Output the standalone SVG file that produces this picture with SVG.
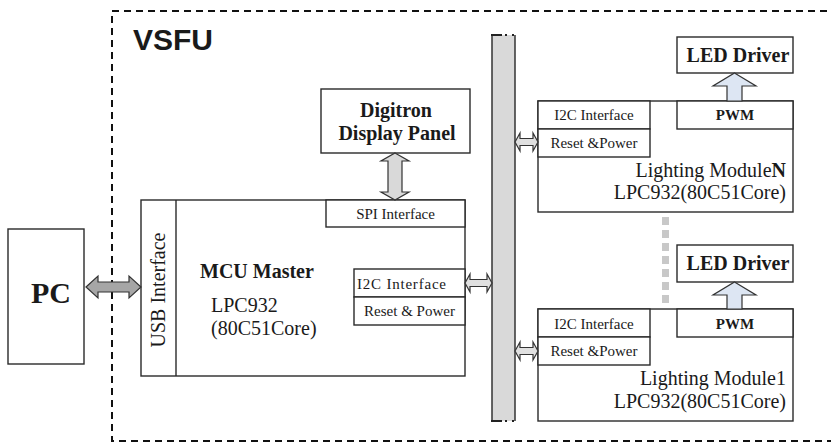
<svg xmlns="http://www.w3.org/2000/svg" width="831" height="443" viewBox="0 0 831 443">
<style>
.box{fill:#fff;stroke:#2a2a2a;stroke-width:1.4}
.t{font-family:"Liberation Serif","Times New Roman",serif;fill:#1a1a1a}
.b{font-weight:bold}
.s15{font-size:15px}
.s20{font-size:20px}
.arr{stroke:#333;stroke-width:1.2;stroke-linejoin:miter}
</style>
<rect width="831" height="443" fill="#fff"/>
<g id="vsfu-frame">
<rect x="112" y="11" width="740" height="430" fill="none" stroke="#111" stroke-width="2" stroke-dasharray="7,5"/>
<text x="133" y="50" font-family="Liberation Sans,Arial,sans-serif" font-weight="bold" font-size="30" fill="#1a1a1a">VSFU</text>
</g>
<g id="pc">
<rect class="box" x="8" y="229" width="76" height="135"/>
<text class="t b" x="51" y="303" font-size="30" text-anchor="middle">PC</text>
</g>
<g id="digitron">
<rect class="box" x="321" y="89" width="149" height="64"/>
<text class="t b s20" x="396" y="117" text-anchor="middle">Digitron</text>
<text class="t b s20" x="397" y="140" text-anchor="middle">Display Panel</text>
</g>
<g id="mcu">
<rect class="box" x="141" y="200" width="324" height="176"/>
<line x1="176" y1="200" x2="176" y2="376" stroke="#2a2a2a" stroke-width="1.4"/>
<text class="t s20" transform="translate(165,290) rotate(-90)" text-anchor="middle">USB Interface</text>
<rect class="box" x="326" y="200" width="139" height="27"/>
<text class="t s15" x="395.5" y="219" text-anchor="middle">SPI Interface</text>
<text class="t b s20" x="200" y="278">MCU Master</text>
<text class="t s20" x="211" y="312">LPC932</text>
<text class="t s20" x="211" y="335">(80C51Core)</text>
<rect class="box" x="354" y="269" width="111" height="28"/>
<rect class="box" x="354" y="297" width="111" height="28"/>
<text class="t s15" x="357" y="289" textLength="89" lengthAdjust="spacing">I2C Interface</text>
<text class="t s15" x="409.5" y="316" text-anchor="middle">Reset &amp; Power</text>
</g>
<g id="bus">
<rect x="492" y="35" width="23" height="386" fill="#d9d9d9"/>
<line x1="492" y1="35" x2="492" y2="421" stroke="#333" stroke-width="1.5"/>
<line x1="515" y1="35" x2="515" y2="421" stroke="#333" stroke-width="1.5"/>
<line x1="491" y1="35" x2="502" y2="35" stroke="#222" stroke-width="2"/>
<line x1="505" y1="35" x2="507" y2="35" stroke="#222" stroke-width="2"/>
<line x1="512" y1="35" x2="514" y2="35" stroke="#222" stroke-width="2"/>
<line x1="491" y1="421" x2="502" y2="421" stroke="#222" stroke-width="2"/>
<line x1="505" y1="421" x2="507" y2="421" stroke="#222" stroke-width="2"/>
<line x1="512" y1="421" x2="514" y2="421" stroke="#222" stroke-width="2"/>
</g>
<g id="module-n">
<rect class="box" x="538" y="101" width="255" height="111"/>
<rect class="box" x="538" y="101" width="112" height="28"/>
<rect class="box" x="538" y="129" width="112" height="28"/>
<rect class="box" x="677" y="101" width="116" height="28"/>
<text class="t s15" x="594" y="120" text-anchor="middle">I2C Interface</text>
<text class="t s15" x="594" y="148" text-anchor="middle">Reset &amp;Power</text>
<text class="t b s15" x="735" y="120" text-anchor="middle">PWM</text>
<text class="t s20" x="786" y="177" text-anchor="end">Lighting Module<tspan class="b">N</tspan></text>
<text class="t s20" x="786" y="199" text-anchor="end">LPC932(80C51Core)</text>
</g>
<g id="led-driver-n">
<rect class="box" x="677" y="37" width="116" height="36"/>
<text class="t b s20" x="738" y="62" text-anchor="middle">LED Driver</text>
</g>
<g id="module-1">
<rect class="box" x="538" y="309" width="255" height="112"/>
<rect class="box" x="538" y="309" width="112" height="28"/>
<rect class="box" x="538" y="337" width="112" height="28"/>
<rect class="box" x="677" y="309" width="116" height="28"/>
<text class="t s15" x="594" y="329" text-anchor="middle">I2C Interface</text>
<text class="t s15" x="594" y="356" text-anchor="middle">Reset &amp;Power</text>
<text class="t b s15" x="735" y="329" text-anchor="middle">PWM</text>
<text class="t s20" x="786" y="385" text-anchor="end">Lighting Module1</text>
<text class="t s20" x="786" y="408" text-anchor="end">LPC932(80C51Core)</text>
</g>
<g id="led-driver-1">
<rect class="box" x="677" y="245" width="116" height="37"/>
<text class="t b s20" x="738" y="270" text-anchor="middle">LED Driver</text>
</g>
<g id="connectors">
<path class="arr" fill="#a6a6a6" d="M86 287 L98 276 L98 282 L129 282 L129 276 L141 287 L129 298 L129 292 L98 292 L98 298 Z"/>
<path class="arr" fill="#d9d9d9" d="M395 153 L409 161 L402 161 L402 192 L409 192 L395 200 L381 192 L388 192 L388 161 L381 161 Z"/>
<path class="arr" fill="#e0e0e0" d="M465 283 L470 274 L470 279.5 L487 279.5 L487 274 L492 283 L487 292 L487 286.5 L470 286.5 L470 292 Z"/>
<path class="arr" fill="#e0e0e0" d="M515 142 L520 133 L520 138.5 L533 138.5 L533 133 L538 142 L533 151 L533 145.5 L520 145.5 L520 151 Z"/>
<path class="arr" fill="#e0e0e0" d="M515 351 L520 342 L520 347.5 L533 347.5 L533 342 L538 351 L533 360 L533 354.5 L520 354.5 L520 360 Z"/>
<path class="arr" fill="#dde6f3" d="M734.5 73 L756 86 L742 86 L742 101 L727 101 L727 86 L713 86 Z"/>
<path class="arr" fill="#dde6f3" d="M734.5 282 L756 295 L742 295 L742 309 L727 309 L727 295 L713 295 Z"/>
<line x1="665.5" y1="217" x2="665.5" y2="305" stroke="#c8c8c8" stroke-width="7" stroke-dasharray="8,5"/>
</g>
</svg>
